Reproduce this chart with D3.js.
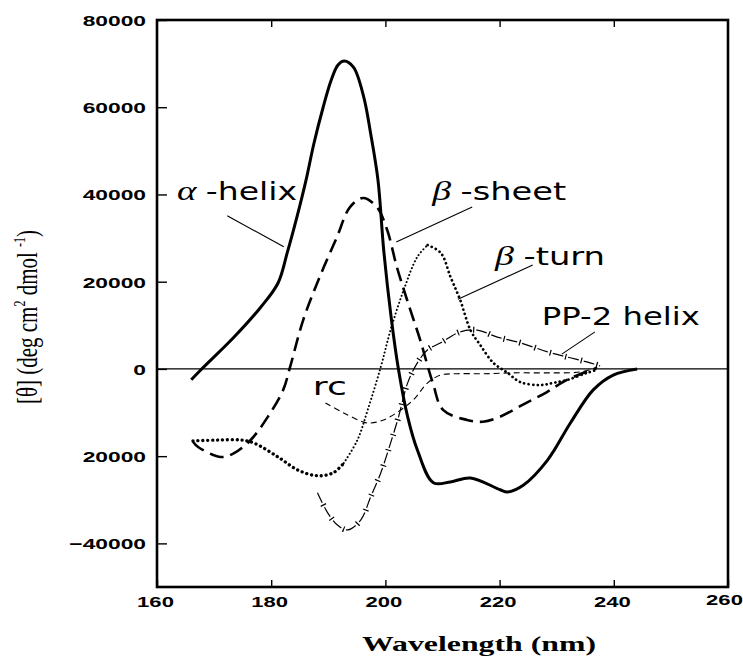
<!DOCTYPE html>
<html lang="en">
<head>
<meta charset="UTF-8">
<title>CD spectra</title>
<style>
  body { margin: 0; background: #fff; }
  svg { display: block; }
</style>
</head>
<body>
<script src="https://d3js.org/d3.v7.min.js"></script>
<script>
// [wavelength nm, ellipticity]
var alphaHelix = [[166, -2500], [167.7, -200], [173.5, 7300], [178.2, 14200], [181.2, 19700], [182.8, 26600],
  [184.5, 34800], [186.1, 43300], [187.5, 51800], [189.1, 60000], [190.5, 66200], [191.7, 69700],
  [192.8, 70600], [194.4, 69200], [196.2, 62400], [197.4, 54100], [198.7, 43300], [199.7, 27300],
  [201, 11900], [202.3, -200], [203.9, -11000], [205.6, -18600], [208.4, -26100], [211.4, -25900],
  [214.9, -25000], [220.1, -27700], [221.4, -28200], [224.2, -26600], [228.4, -20900], [232.4, -12400],
  [236.4, -4800], [239.9, -1400], [244.1, 0]];
var betaSheet = [[166.3, -16700], [167.2, -17900], [171.2, -20200], [173.5, -19300], [176.4, -16300],
  [179.4, -11000], [182.1, -4800], [183.3, 400], [185.6, 11200], [188.5, 21100], [191.5, 30200],
  [193.8, 37100], [196.1, 39200], [198.5, 37100], [200.3, 31900], [202, 23400], [203.8, 15800],
  [206.1, 6600], [208.3, -3200], [210.1, -9400], [214.3, -11700], [217.1, -12100], [220, -11000],
  [224.1, -8200], [228.3, -5300], [231.8, -2500], [237, 200]];
var betaTurn = [[166.3, -16500], [170.7, -16300], [174.7, -16300], [177, -17000], [181.2, -20200],
  [184.7, -23200], [188.1, -24500], [190.9, -23800], [192.7, -21600], [195.1, -16300], [196.9, -9400],
  [199.2, 500], [200.9, 8900], [203.2, 18100], [205.6, 25700], [207.4, 28400], [209.7, 26600],
  [211.4, 21100], [213.1, 15800], [214.9, 8900], [216.6, 5500], [218.9, 1400], [221.4, -900],
  [223.6, -3000], [227.1, -3700], [229.4, -3200], [231.9, -2500], [235.3, -900], [237.1, -200]];
var pp2Helix = [[188.1, -28400], [189.9, -33000], [191.6, -35800], [193.4, -36900], [195.7, -34600],
  [197.4, -29400], [199.2, -23800], [200.9, -17000], [202.3, -11000], [203.9, -3200], [205.6, 1400],
  [207.4, 4400], [209.7, 6000], [213.1, 8500], [216.1, 8900], [219.6, 7300], [223.6, 6000],
  [228.4, 3900], [231.9, 2700], [235.3, 1600], [237.6, 700]];
var randomCoil = [[189.5, -7800], [192.7, -10100], [196.2, -12200], [197.4, -12400], [199.7, -11700],
  [202.7, -9400], [204.9, -7100], [207.4, -3200], [209.7, -1400], [212.6, -1100], [217.2, -1100],
  [222.4, -900], [228.4, -900], [234.1, -700], [237.1, 400]];

var xTicks = [160, 180, 200, 220, 240, 260];
var yTicks = [80000, 60000, 40000, 20000, 0, -20000, -40000];
var yTickLabels = ["80000", "60000", "40000", "20000", "0", "20000", "\u221240000"];

// label anchor [nm, value], leader line [[nm, value], [nm, value]]
var labelNames = ["-helix", "-sheet", "-turn", "PP-2 helix", "rc"];
var labelGreek = ["\u03b1", "\u03b2", "\u03b2", "", ""];
var labelPos = [[163.5, 38700], [208.2, 38700], [219.2, 23800], [227.4, 10100], [187.3, -6000]];
var labelWidth = [120, 134, 110, 158, 34];
var leaders = [
  [[172.3, 35100], [182.2, 28000]],
  [[215.2, 37100], [201.9, 29100]],
  [[225.8, 23800], [212.7, 16000]],
  [[236.7, 8500], [230.9, 3400]]
];

var width = 743, height = 656;
var plot = { left: 157, right: 728, top: 20, bottom: 587 };

var x = d3.scaleLinear().domain([160, 260]).range([plot.left, plot.right]);
var y = d3.scaleLinear().domain([-50000, 80000]).range([plot.bottom, plot.top]);

var svg = d3.select("body").append("svg").attr("width", width).attr("height", height);

// zero line
svg.append("line")
  .attr("x1", x(160)).attr("x2", x(260))
  .attr("y1", y(0)).attr("y2", y(0))
  .attr("stroke", "#000").attr("stroke-width", 1.3);

var line = d3.line()
  .x(function(d) { return x(d[0]); })
  .y(function(d) { return y(d[1]); })
  .curve(d3.curveCatmullRom.alpha(0.5));

function curve(data, w, dash, cap, offset) {
  svg.append("path")
    .attr("d", line(data))
    .attr("fill", "none")
    .attr("stroke", "#000")
    .attr("stroke-width", w)
    .attr("stroke-dasharray", dash)
    .attr("stroke-dashoffset", offset || 0)
    .attr("stroke-linecap", cap || "butt");
}

curve(randomCoil, 1.1, "6 4");
curve(pp2Helix, 1.2, "11 5");
curve(pp2Helix, 6, "1.2 14.8", "butt", -13);

// beta-turn: heavy dots on the left, fine dots on the rise, medium after the peak
curve(betaTurn.filter(function(d) { return d[0] <= 193; }), 3.3, "0.1 4.8", "round");
curve(betaTurn.filter(function(d) { return d[0] >= 192.7 && d[0] <= 207.4; }), 2, "0.1 3.6", "round");
curve(betaTurn.filter(function(d) { return d[0] >= 207.4; }), 2.7, "0.1 4.4", "round");

curve(betaSheet, 2.6, "14 7");
curve(alphaHelix, 3);

// frame
svg.append("rect")
  .attr("x", plot.left).attr("y", plot.top)
  .attr("width", plot.right - plot.left).attr("height", plot.bottom - plot.top)
  .attr("fill", "none").attr("stroke", "#000").attr("stroke-width", 2.6);

function styleTicks(g) {
  g.select(".domain").remove();
  g.selectAll(".tick line").attr("stroke", "#000").attr("stroke-width", 1.4);
  g.selectAll("text")
    .attr("fill", "#000")
    .attr("font-family", "'Liberation Sans', Arial, sans-serif")
    .attr("font-weight", "bold")
    .attr("font-size", 15);
}

var yAxis = svg.append("g")
  .attr("transform", "translate(" + plot.left + ",0)")
  .call(d3.axisLeft(y).tickValues(yTicks)
    .tickFormat(function(d, i) { return yTickLabels[i]; })
    .tickSizeInner(-10).tickSizeOuter(0).tickPadding(11))
  .call(styleTicks);
yAxis.selectAll("text")
  .attr("x", null).attr("dy", "0.36em")
  .attr("transform", "translate(-11,0) scale(1.52,1)");

var xAxis = svg.append("g")
  .attr("transform", "translate(0," + plot.bottom + ")")
  .call(d3.axisBottom(x).tickValues(xTicks)
    .tickFormat(d3.format("d"))
    .tickSizeInner(-7).tickSizeOuter(0).tickPadding(9))
  .call(styleTicks);
xAxis.selectAll("text")
  .attr("y", null).attr("dy", "0.71em")
  .attr("transform", function(d, i) {
    var last = i === xTicks.length - 1;
    return "translate(" + (last ? -4 : -2) + "," + (last ? 7 : 9) + ") scale(1.47,1)";
  });

svg.append("g")
  .attr("transform", "translate(0," + plot.top + ")")
  .call(d3.axisTop(x).tickValues(xTicks.slice(1, -1))
    .tickFormat("").tickSizeInner(-7).tickSizeOuter(0))
  .call(styleTicks);

// axis titles
svg.append("text")
  .attr("x", 362).attr("y", 651)
  .attr("font-family", "'Liberation Serif', 'Times New Roman', serif")
  .attr("font-weight", "bold")
  .attr("font-size", 21)
  .attr("textLength", 234).attr("lengthAdjust", "spacingAndGlyphs")
  .text("Wavelength (nm)");

var yt = svg.append("text")
  .attr("transform", "translate(37,317) rotate(-90) scale(1,1.45)")
  .attr("text-anchor", "middle")
  .attr("font-family", "'Liberation Serif', 'Times New Roman', serif")
  .attr("font-size", 21);
yt.append("tspan").text("[\u03b8] (deg  cm");
yt.append("tspan").attr("font-size", 12).attr("dy", -8).text("2");
yt.append("tspan").attr("dy", 8).text("  dmol ");
yt.append("tspan").attr("font-size", 12).attr("dy", -8).text("-1");
yt.append("tspan").attr("dy", 8).text(")");

// series labels
labelNames.forEach(function(name, i) {
  var t = svg.append("text")
    .attr("x", x(labelPos[i][0])).attr("y", y(labelPos[i][1]))
    .attr("font-family", "'DejaVu Sans', sans-serif")
    .attr("font-size", 24)
    .attr("textLength", labelWidth[i]).attr("lengthAdjust", "spacingAndGlyphs");
  if (labelGreek[i]) {
    t.append("tspan")
      .attr("font-family", "'Liberation Serif', serif")
      .attr("font-style", "italic")
      .attr("font-size", 27)
      .text(labelGreek[i] + " ");
  }
  t.append("tspan").text(name);
});

svg.selectAll(".leader")
  .data(leaders)
  .enter()
  .append("line")
  .attr("class", "leader")
  .attr("x1", function(d) { return x(d[0][0]); })
  .attr("y1", function(d) { return y(d[0][1]); })
  .attr("x2", function(d) { return x(d[1][0]); })
  .attr("y2", function(d) { return y(d[1][1]); })
  .attr("stroke", "#000")
  .attr("stroke-width", 1.1);
</script>
</body>
</html>
